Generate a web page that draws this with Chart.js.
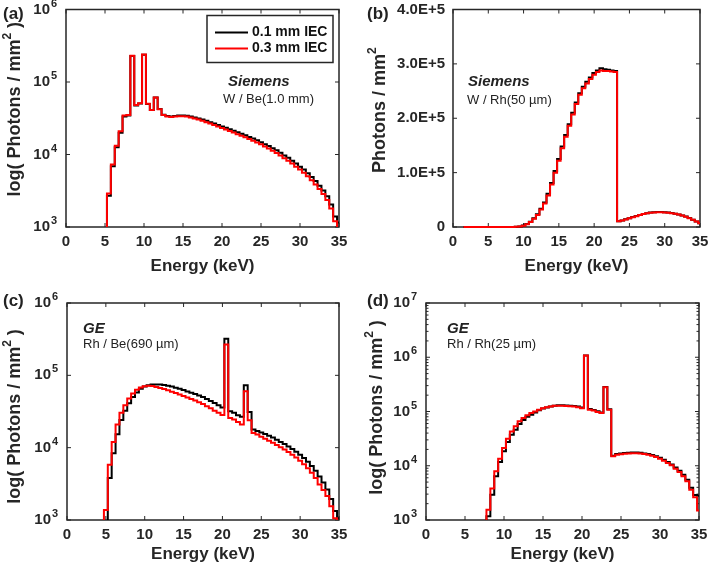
<!DOCTYPE html>
<html>
<head>
<meta charset="utf-8">
<script src="https://cdn.jsdelivr.net/npm/chart.js@4.4.0/dist/chart.umd.min.js"></script>
<style>
  body { margin: 0; background: #fff; }
  #wrap { position: relative; width: 709px; height: 570px; font-family: 'Liberation Sans', Arial, sans-serif; color: #222; }
  canvas { position: absolute; }
  .tag { position: absolute; font-weight: bold; font-size: 17px; line-height: 17px; }
  .maker { position: absolute; font-weight: bold; font-style: italic; font-size: 15px; line-height: 15px; }
  .tube { position: absolute; font-size: 13px; line-height: 13px; }
</style>
</head>
<body>
<div id="wrap">
  <canvas id="chartA" width="355" height="285" style="left:0;top:0"></canvas>
  <canvas id="chartB" width="354" height="285" style="left:355px;top:0"></canvas>
  <canvas id="chartC" width="355" height="285" style="left:0;top:285px"></canvas>
  <canvas id="chartD" width="354" height="285" style="left:355px;top:285px"></canvas>

  <div class="tag" style="left:3px;top:5px">(a)</div>
  <div class="tag" style="left:367px;top:5px">(b)</div>
  <div class="tag" style="left:3px;top:292px">(c)</div>
  <div class="tag" style="left:367px;top:292px">(d)</div>

  <div class="maker" style="left:228px;top:73px">Siemens</div>
  <div class="tube" style="left:223px;top:92px">W / Be(1.0 mm)</div>
  <div class="maker" style="left:468px;top:73px">Siemens</div>
  <div class="tube" style="left:467px;top:93px">W / Rh(50 µm)</div>
  <div class="maker" style="left:83px;top:320px">GE</div>
  <div class="tube" style="left:83px;top:337px">Rh / Be(690 µm)</div>
  <div class="maker" style="left:447px;top:320px">GE</div>
  <div class="tube" style="left:447px;top:337px">Rh / Rh(25 µm)</div>
</div>

<script>
// Series names / colours (0.1 mm IEC underneath, 0.3 mm IEC on top)
const seriesLabels = ['0.1 mm IEC', '0.3 mm IEC'];
const seriesColors = ['#000000', '#ff0000'];

// Tick labels
const energyTicks = [0, 5, 10, 15, 20, 25, 30, 35];
const decadeTicks6 = [1e3, 1e4, 1e5, 1e6];
const decadeTicks7 = [1e3, 1e4, 1e5, 1e6, 1e7];
const linearTicksB = [0, 1e5, 2e5, 3e5, 4e5];

// (a) Siemens W / Be(1.0 mm) - bin centres in keV
const energyA = [5.0, 5.5, 6.0, 6.5, 7.0, 7.5, 8.0, 8.5, 9.0, 9.5, 10.0, 10.5, 11.0, 11.5, 12.0, 12.5, 13.0, 13.5, 14.0, 14.5,
  15.0, 15.5, 16.0, 16.5, 17.0, 17.5, 18.0, 18.5, 19.0, 19.5, 20.0, 20.5, 21.0, 21.5, 22.0, 22.5, 23.0, 23.5, 24.0, 24.5,
  25.0, 25.5, 26.0, 26.5, 27.0, 27.5, 28.0, 28.5, 29.0, 29.5, 30.0, 30.5, 31.0, 31.5, 32.0, 32.5, 33.0, 33.5, 34.0, 34.5, 35.0];
const thinA = [280, 2700, 6900, 12600, 20000, 33500, 34500, 228000, 47500, 50500, 238000, 49800, 41000, 61000, 42300, 35300, 33900, 33500, 33900, 34500,
  34600, 34200, 33400, 32500, 31400, 30300, 29100, 27900, 26700, 25500, 24400, 23300, 22300, 21300, 20300, 19300, 18400, 17500, 16600, 15700,
  14800, 13900, 13100, 12200, 11400, 10600, 9700, 9000, 8200, 7500, 6800, 6200, 5500, 4900, 4300, 3700, 3200, 2650, 2050, 1400, 1150];
const thickA = [300, 2900, 7300, 13200, 21000, 34500, 35000, 230000, 48000, 51000, 240000, 50000, 41000, 61000, 42000, 35000, 33500, 33000, 33300, 33800,
  33800, 33300, 32400, 31400, 30300, 29100, 27900, 26700, 25500, 24300, 23200, 22100, 21100, 20100, 19100, 18200, 17300, 16400, 15500, 14600,
  13800, 12900, 12100, 11300, 10500, 9700, 8900, 8200, 7500, 6800, 6200, 5600, 5000, 4400, 3850, 3350, 2850, 2350, 1800, 1200, 950];

// (b) Siemens W / Rh(50 um)
const energyB = [1.5, 2.0, 2.5, 3.0, 3.5, 4.0, 4.5, 5.0, 5.5, 6.0, 6.5, 7.0, 7.5, 8.0, 8.5, 9.0, 9.5, 10.0, 10.5, 11.0,
  11.5, 12.0, 12.5, 13.0, 13.5, 14.0, 14.5, 15.0, 15.5, 16.0, 16.5, 17.0, 17.5, 18.0, 18.5, 19.0, 19.5, 20.0, 20.5, 21.0,
  21.5, 22.0, 22.5, 23.0, 23.5, 24.0, 24.5, 25.0, 25.5, 26.0, 26.5, 27.0, 27.5, 28.0, 28.5, 29.0, 29.5, 30.0, 30.5, 31.0,
  31.5, 32.0, 32.5, 33.0, 33.5, 34.0, 34.5, 35.0];
const thinB = [0, 0, 0, 0, 0, 0, 0, 0, 0, 0, 0, 0, 0, 0, 0, 400, 1100, 2700, 5400, 9500,
  16000, 23500, 33500, 45000, 61000, 81000, 103000, 125000, 148000, 169000, 189000, 210000, 229000, 246000, 258000, 267000, 275000, 283000, 288000, 292000,
  290000, 289000, 288000, 287000, 10600, 12100, 14100, 16200, 18200, 20200, 22200, 24000, 25500, 26500, 27100, 27400, 27400, 27100, 26500, 25600,
  24500, 23100, 21300, 19100, 16500, 13500, 10300, 7000];
const thickB = [0, 0, 0, 0, 0, 0, 0, 0, 0, 0, 0, 0, 0, 0, 0, 300, 1000, 2500, 5000, 9000,
  15000, 22000, 32000, 43000, 58000, 78000, 100000, 122000, 145000, 166000, 186000, 207000, 226000, 243000, 255000, 264000, 272000, 280000, 285000, 288000,
  287000, 287000, 286000, 285000, 10500, 12000, 14000, 16000, 18000, 20000, 22000, 23800, 25200, 26200, 26800, 27100, 27100, 26800, 26200, 25300,
  24200, 22800, 21000, 18800, 16200, 13200, 10000, 6800];

// (c) GE Rh / Be(690 um)
const energyC = [4.5, 5.0, 5.5, 6.0, 6.5, 7.0, 7.5, 8.0, 8.5, 9.0, 9.5, 10.0, 10.5, 11.0, 11.5, 12.0, 12.5, 13.0, 13.5, 14.0,
  14.5, 15.0, 15.5, 16.0, 16.5, 17.0, 17.5, 18.0, 18.5, 19.0, 19.5, 20.0, 20.5, 21.0, 21.5, 22.0, 22.5, 23.0, 23.5, 24.0,
  24.5, 25.0, 25.5, 26.0, 26.5, 27.0, 27.5, 28.0, 28.5, 29.0, 29.5, 30.0, 30.5, 31.0, 31.5, 32.0, 32.5, 33.0, 33.5, 34.0,
  34.5, 35.0];
const thinC = [200, 700, 3800, 8400, 15300, 24200, 32500, 41000, 50000, 58000, 65000, 70000, 73000, 74500, 74800, 74500, 73500, 72000, 70000, 67500,
  65000, 62500, 60000, 57500, 55000, 52500, 50000, 47000, 44000, 41500, 38500, 36000, 321000, 31900, 30300, 28100, 26700, 73100, 31000, 17800,
  17000, 16200, 15400, 14600, 13800, 12900, 12000, 11200, 10400, 9600, 8800, 8000, 7200, 6400, 5600, 4800, 4000, 3300, 2650, 1950,
  1330, 1060];
const thickC = [300, 1370, 5800, 12000, 20900, 30300, 38600, 48000, 56000, 63000, 68000, 70500, 71500, 71000, 69000, 67000, 64500, 62000, 59500, 57000,
  54500, 52000, 49500, 47000, 45000, 42500, 40000, 37500, 35000, 32500, 30500, 28200, 267000, 25700, 24500, 22700, 20900, 60300, 24000, 16000,
  15200, 14200, 13300, 12500, 11700, 10900, 10100, 9400, 8700, 8000, 7300, 6600, 5900, 5200, 4500, 3800, 3100, 2600, 2150, 1550,
  1060, 850];

// (d) GE Rh / Rh(25 um)
const energyD = [7.5, 8.0, 8.5, 9.0, 9.5, 10.0, 10.5, 11.0, 11.5, 12.0, 12.5, 13.0, 13.5, 14.0, 14.5, 15.0, 15.5, 16.0, 16.5, 17.0,
  17.5, 18.0, 18.5, 19.0, 19.5, 20.0, 20.5, 21.0, 21.5, 22.0, 22.5, 23.0, 23.5, 24.0, 24.5, 25.0, 25.5, 26.0, 26.5, 27.0,
  27.5, 28.0, 28.5, 29.0, 29.5, 30.0, 30.5, 31.0, 31.5, 32.0, 32.5, 33.0, 33.5, 34.0, 34.5, 35.0];
const thinD = [300, 1170, 2930, 6380, 11700, 18500, 27400, 37400, 46200, 58900, 69700, 80400, 87000, 96000, 105000, 113000, 119000, 124000, 128000, 130000,
  130000, 129000, 128000, 126000, 123000, 118000, 1080000, 111000, 107000, 101000, 96000, 284000, 110000, 15300, 16400, 16800, 17100, 17300, 17500, 17500,
  17300, 16900, 16500, 15800, 15000, 14000, 12900, 11700, 10600, 9300, 8100, 6800, 5500, 3950, 2900, 2800];
const thickD = [400, 1550, 3790, 7900, 13500, 21200, 31600, 43000, 53200, 66000, 76000, 85000, 94000, 100000, 108000, 115000, 120000, 124000, 127000, 128000,
  127000, 126000, 125000, 123000, 120000, 115000, 1080000, 108000, 104000, 98000, 94000, 279000, 108000, 14900, 16000, 16300, 16600, 16800, 17000, 17000,
  16800, 16400, 16000, 15300, 14500, 13500, 12400, 11200, 10200, 8850, 7660, 6380, 5160, 3620, 2620, 1500];

const FONT = "'Liberation Sans', Arial, sans-serif";
const INK = '#262626';

function toPoints(xs, ys) {
  return xs.map((x, i) => ({ x: x, y: ys[i] }));
}

function eLabel(v) {
  return v === 0 ? '0' : (v / 1e5).toFixed(1) + 'E+5';
}

// scales should not push the plot area around, the layout padding places it
function noScalePadding(s) {
  s.paddingTop = 0;
  s.paddingBottom = 0;
  s.paddingLeft = 0;
  s.paddingRight = 0;
}

// MATLAB style box with inward ticks, exponents of the log labels and the y title
function boxPlugin(cfg) {
  return {
    id: 'box',
    beforeDatasetsDraw(chart) {
      const { ctx, chartArea: a, scales } = chart;
      ctx.save();
      ctx.strokeStyle = INK;
      ctx.lineWidth = 1;
      ctx.beginPath();
      scales.x.ticks.forEach(t => {
        const px = scales.x.getPixelForValue(t.value);
        ctx.moveTo(px, a.bottom); ctx.lineTo(px, a.bottom - 4);
        ctx.moveTo(px, a.top); ctx.lineTo(px, a.top + 4);
      });
      scales.y.ticks.forEach(t => {
        const py = scales.y.getPixelForValue(t.value);
        ctx.moveTo(a.left, py); ctx.lineTo(a.left + 4, py);
        ctx.moveTo(a.right, py); ctx.lineTo(a.right - 4, py);
      });
      if (cfg.minor) {
        const ys = scales.y;
        for (let p = Math.log10(ys.min); p < Math.log10(ys.max); p++) {
          for (let k = 2; k < 10; k++) {
            const py = ys.getPixelForValue(k * Math.pow(10, p));
            ctx.moveTo(a.left, py); ctx.lineTo(a.left + 2.5, py);
            ctx.moveTo(a.right, py); ctx.lineTo(a.right - 2.5, py);
          }
        }
      }
      ctx.stroke();
      ctx.lineWidth = 1.5;
      ctx.strokeRect(a.left, a.top, a.right - a.left, a.bottom - a.top);
      ctx.restore();
    },
    afterDraw(chart) {
      const { ctx, chartArea: a, scales } = chart;
      ctx.save();
      ctx.fillStyle = INK;
      // exponents next to the "10" tick labels
      if (cfg.log) {
        ctx.font = 'bold 11px ' + FONT;
        ctx.textBaseline = 'middle';
        ctx.textAlign = 'left';
        scales.y.ticks.forEach(t => {
          const py = scales.y.getPixelForValue(t.value);
          ctx.fillText(String(Math.round(Math.log10(t.value))), a.left - 15, py - 6);
        });
      }
      // rotated y title with a raised "2"
      const main = 'bold 18px ' + FONT, sup = 'bold 12px ' + FONT;
      const parts = [[cfg.yTitle[0], main, 0], ['2', sup, -7], [cfg.yTitle[1], main, 0]];
      let total = 0;
      parts.forEach(p => { ctx.font = p[1]; total += ctx.measureText(p[0]).width; });
      ctx.translate(cfg.yTitleX, (a.top + a.bottom) / 2 + cfg.yTitleShift);
      ctx.rotate(-Math.PI / 2);
      ctx.textBaseline = 'middle';
      ctx.textAlign = 'left';
      let x = -total / 2;
      parts.forEach(p => {
        ctx.font = p[1];
        ctx.fillText(p[0], x, p[2]);
        x += ctx.measureText(p[0]).width;
      });
      ctx.restore();
    }
  };
}

// boxed legend in the top right corner of the plot
const legendBox = {
  id: 'legendBox',
  afterDraw(chart) {
    const { ctx, chartArea: a } = chart;
    const x = a.right - 132, y = a.top + 6, w = 126, h = 47;
    ctx.save();
    ctx.fillStyle = '#fff';
    ctx.fillRect(x, y, w, h);
    ctx.lineWidth = 1.5;
    ctx.strokeStyle = INK;
    ctx.strokeRect(x, y, w, h);
    ctx.font = 'bold 14px ' + FONT;
    ctx.textBaseline = 'middle';
    chart.data.datasets.forEach((ds, i) => {
      const ly = y + 17 + i * 16;
      ctx.strokeStyle = ds.borderColor;
      ctx.lineWidth = 2;
      ctx.beginPath();
      ctx.moveTo(x + 8, ly);
      ctx.lineTo(x + 41, ly);
      ctx.stroke();
      ctx.fillStyle = '#111';
      ctx.fillText(ds.label, x + 45, ly);
    });
    ctx.restore();
  }
};

const tickFont = { family: FONT, size: 15, weight: 'bold' };
const titleFont = { family: FONT, size: 17, weight: 'bold' };

function spectrumChart(id, cfg) {
  const plugins = [boxPlugin(cfg)];
  if (cfg.legend) plugins.push(legendBox);
  return new Chart(document.getElementById(id), {
    type: 'line',
    data: {
      datasets: [cfg.thin, cfg.thick].map((ys, i) => ({
        label: seriesLabels[i],
        data: toPoints(cfg.energy, ys),
        borderColor: seriesColors[i],
        borderWidth: 2,
        stepped: 'middle',
        pointRadius: 0,
        fill: false,
        order: 1 - i,
        clip: cfg.clip
      }))
    },
    options: {
      responsive: false,
      animation: false,
      layout: { autoPadding: false, padding: { top: cfg.top, right: cfg.right, bottom: 0, left: 0 } },
      plugins: { legend: { display: false }, tooltip: { enabled: false } },
      scales: {
        x: {
          type: 'linear', min: 0, max: 35,
          grid: { display: false, drawTicks: false }, border: { display: false },
          afterBuildTicks: s => { s.ticks = energyTicks.map(v => ({ value: v })); },
          afterFit: s => { s.height = cfg.xHeight; noScalePadding(s); },
          ticks: { font: tickFont, color: INK, padding: 6, autoSkip: false, maxRotation: 0 },
          title: { display: true, text: 'Energy (keV)', font: titleFont, color: INK, padding: { top: 0, bottom: cfg.xTitlePad } }
        },
        y: {
          type: cfg.log ? 'logarithmic' : 'linear',
          min: cfg.yTicks[0], max: cfg.yTicks[cfg.yTicks.length - 1],
          grid: { display: false, drawTicks: false }, border: { display: false },
          afterBuildTicks: s => { s.ticks = cfg.yTicks.map(v => ({ value: v })); },
          afterFit: s => { s.width = cfg.yWidth; noScalePadding(s); },
          ticks: {
            font: tickFont, color: INK, autoSkip: false,
            padding: cfg.log ? 16 : 8,
            callback: cfg.log ? () => '10' : eLabel
          },
          title: { display: false }
        }
      }
    },
    plugins: plugins
  });
}

spectrumChart('chartA', {
  energy: energyA, thin: thinA, thick: thickA, log: true, yTicks: decadeTicks6,
  yTitle: ['log( Photons / mm', ' )'], yTitleX: 15, yTitleShift: -9, top: 9.5, right: 16, yWidth: 66, xHeight: 58,
  xTitlePad: 8, legend: true, clip: 0
});

spectrumChart('chartB', {
  energy: energyB, thin: thinB, thick: thickB, log: false, yTicks: linearTicksB,
  yTitle: ['Photons / mm', ''], yTitleX: 25, yTitleShift: -8, top: 9.5, right: 9, yWidth: 98, xHeight: 58,
  xTitlePad: 8, clip: { left: 0, top: 0, right: 0, bottom: 2 }
});

spectrumChart('chartC', {
  energy: energyC, thin: thinC, thick: thickC, log: true, yTicks: decadeTicks6,
  yTitle: ['log( Photons / mm', ' )'], yTitleX: 15, yTitleShift: 5, top: 18, right: 16, yWidth: 67, xHeight: 50,
  xTitlePad: 5, clip: 0
});

spectrumChart('chartD', {
  energy: energyD, thin: thinD, thick: thickD, log: true, yTicks: decadeTicks7,
  yTitle: ['log( Photons / mm', ' )'], yTitleX: 22, yTitleShift: -4, top: 18, right: 10, yWidth: 71, xHeight: 50,
  xTitlePad: 5, minor: true, clip: 0
});
</script>
</body>
</html>
